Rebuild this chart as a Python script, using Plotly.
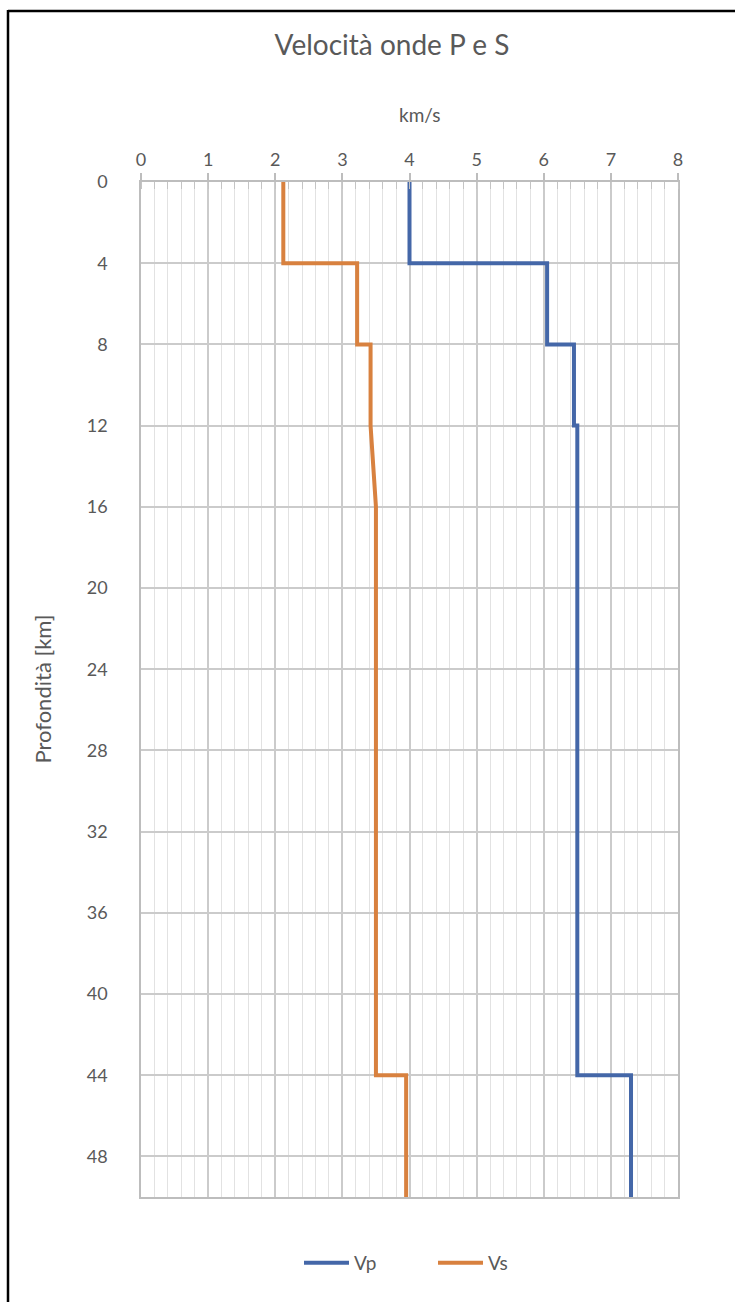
import plotly.graph_objects as go

# Layered crustal model: depth (km) and wave velocities (km/s)
depth_vp = [0, 4, 4, 8, 8, 12, 12, 44, 44, 50]
vp = [4.0, 4.0, 6.05, 6.05, 6.45, 6.45, 6.5, 6.5, 7.3, 7.3]

depth_vs = [0, 4, 4, 8, 8, 12, 16, 44, 44, 50]
vs = [2.12, 2.12, 3.22, 3.22, 3.42, 3.42, 3.5, 3.5, 3.95, 3.95]

x_ticks = [0, 1, 2, 3, 4, 5, 6, 7, 8]
y_ticks = [0, 4, 8, 12, 16, 20, 24, 28, 32, 36, 40, 44, 48]

FONT = "Lato, 'Open Sans', sans-serif"
TXT = "#595959"
W, H = 735, 1302
L, R, T, B = 141, 57, 182, 105
PW, PH = W - L - R, H - T - B

fig = go.Figure()
fig.add_trace(go.Scatter(x=vp, y=depth_vp, mode="lines", name="Vp",
                         line=dict(color="#4467a8", width=4)))
fig.add_trace(go.Scatter(x=vs, y=depth_vs, mode="lines", name="Vs",
                         line=dict(color="#d8813f", width=4)))

fig.update_layout(
    width=W, height=H,
    margin=dict(l=L, r=R, t=T, b=B),
    paper_bgcolor="white", plot_bgcolor="white",
    font=dict(family=FONT, color=TXT, size=17),
    title=dict(text="Velocità onde P e S", x=392 / W, xref="container", xanchor="center",
               y=1 - 45 / H, yref="container", yanchor="middle",
               font=dict(size=28, color=TXT, family=FONT)),
    showlegend=True,
    legend=dict(orientation="h", x=433 / W, xref="container", xanchor="center",
                y=1 - 1263 / H, yref="container", yanchor="middle",
                font=dict(size=19, color=TXT), itemwidth=45,
                entrywidth=74, entrywidthmode="pixels"),
)

fig.update_xaxes(
    side="top", range=[0, 8], tickvals=x_ticks,
    showgrid=True, gridcolor="#cbcbcb", gridwidth=1.5,
    showline=True, linecolor="#bdbdbd", linewidth=1.5, mirror=True,
    ticks="outside", ticklen=7, tickcolor="#bdbdbd", tickwidth=1.5,
    tickfont=dict(size=18, color=TXT), zeroline=False,
    minor=dict(dtick=0.2, showgrid=True, gridcolor="#e2e2e2", gridwidth=1,
               ticks="inside", ticklen=7, tickcolor="#c4c4c4", tickwidth=1),
)
fig.update_yaxes(
    range=[50, 0], tickvals=y_ticks,
    showgrid=True, gridcolor="#cbcbcb", gridwidth=1.5,
    showline=True, linecolor="#bdbdbd", linewidth=1.5, mirror=True,
    ticks="", ticklabelstandoff=28,
    tickfont=dict(size=18, color=TXT), zeroline=False,
)

# axis titles
fig.add_annotation(text="km/s", xref="paper", yref="paper",
                   x=(419 - L) / PW, y=1 + (T - 114) / PH,
                   showarrow=False, font=dict(size=19, color=TXT), xanchor="center", yanchor="middle")
fig.add_annotation(text="Profondità [km]", xref="paper", yref="paper", textangle=-90,
                   x=-(L - 42) / PW, y=0.5,
                   showarrow=False, font=dict(size=22, color=TXT), xanchor="center", yanchor="middle")

# chart frame (left and top edges)
fig.add_shape(type="line", xref="paper", yref="paper",
              x0=-(L - 8) / PW, x1=-(L - 8) / PW,
              y0=1 + (T - 10) / PH, y1=-B / PH - 0.01,
              line=dict(color="black", width=2.5))
fig.add_shape(type="line", xref="paper", yref="paper",
              x0=-(L - 8) / PW, x1=1 + R / PW + 0.01,
              y0=1 + (T - 11) / PH, y1=1 + (T - 11) / PH,
              line=dict(color="black", width=2.5))

fig.write_html("out.html")
